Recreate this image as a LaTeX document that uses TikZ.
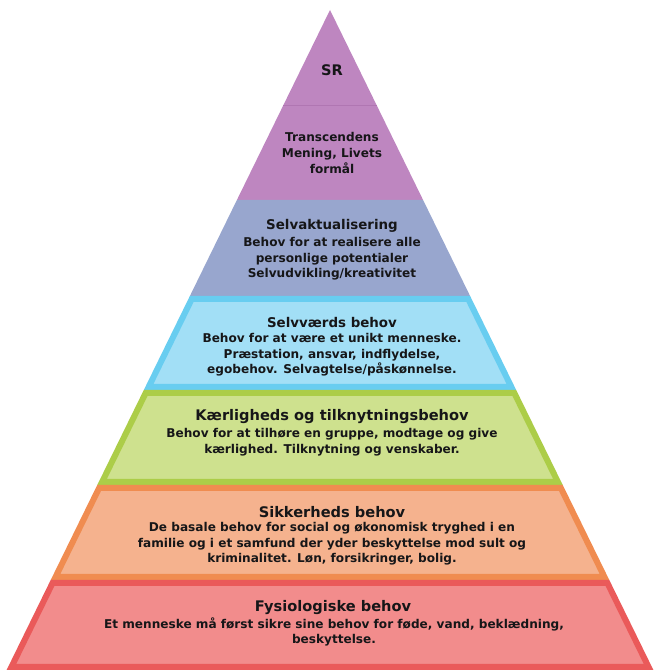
\documentclass[tikz,border=0pt]{standalone}
\usepackage{fontspec}
\setmainfont{DejaVu Sans}
\usepackage{xcolor}
\usepackage{tikz}
\usetikzlibrary{positioning}
\definecolor{ink}{RGB}{22,22,24}
\definecolor{lilac}{RGB}{190,134,192}
\definecolor{lilacline}{RGB}{176,118,178}
\definecolor{dusk}{RGB}{152,166,206}
\definecolor{skyfill}{RGB}{162,223,246}
\definecolor{skyedge}{RGB}{104,205,240}
\definecolor{limefill}{RGB}{206,225,142}
\definecolor{limeedge}{RGB}{172,205,72}
\definecolor{peachfill}{RGB}{245,178,142}
\definecolor{peachedge}{RGB}{240,140,80}
\definecolor{rosefill}{RGB}{242,140,140}
\definecolor{roseedge}{RGB}{234,90,90}

\begin{document}
\begin{tikzpicture}[
  x=1pt, y=1pt,
  tier/.style={line width=6pt, line join=miter},
  head/.style={font=\bfseries\fontsize{14.6}{17}\selectfont, text=ink,
               align=center, inner sep=0pt},
  subhead/.style={head, font=\bfseries\fontsize{13.4}{16}\selectfont},
  body/.style={font=\bfseries\fontsize{12.1}{15.6}\selectfont, text=ink,
               align=center, inner sep=0pt}]
  \useasboundingbox (0,0) rectangle (654,670);
  % top of the pyramid, no outline
  \fill[lilac] (330,660) -- (376.55,565) -- (423.1,470) -- (236.9,470) -- (283.45,565) -- cycle;
  \draw[lilacline, line width=0.7pt] (283.45,565) -- (376.55,565);
  \fill[dusk] (236.9,470) -- (423.1,470) -- (470.1,374) -- (189.9,374) -- cycle;
  % outlined tiers
  \draw[tier, draw=skyedge, fill=skyfill] (191.73,371) -- (468.27,371) -- (511.39,283) -- (148.61,283) -- cycle;
  \draw[tier, draw=limeedge, fill=limefill] (145.67,277) -- (514.33,277) -- (557.94,188) -- (102.06,188) -- cycle;
  \draw[tier, draw=peachedge, fill=peachfill] (99.12,182) -- (560.88,182) -- (604.49,93) -- (55.51,93) -- cycle;
  \draw[tier, draw=roseedge, fill=rosefill] (52.57,87) -- (607.43,87) -- (648.59,3) -- (11.41,3) -- cycle;
  % texts
  \node[head] (sr) at (332,600) {SR};
  \node[body] (trans) at (332,517) {Transcendens\\Mening, Livets\\formål};
  \node[subhead] (selvakt) at (332,444) {Selvaktualisering};
  \node[body] (selvaktB) at (332,411) {Behov for at realisere alle\\personlige potentialer\\Selvudvikling/kreativitet};
  \node[subhead] (vaerd) at (332,347) {Selvværds behov};
  \node[body] (vaerdB) at (332,315) {Behov for at være et unikt menneske.\\Præstation, ansvar, indflydelse,\\egobehov. Selvagtelse/påskønnelse.};
  \node[head] (kaer) at (332,253) {Kærligheds og tilknytningsbehov};
  \node[body] (kaerB) at (332,228) {Behov for at tilhøre en gruppe, modtage og give\\kærlighed. Tilknytning og venskaber.};
  \node[head] (sikker) at (332,158) {Sikkerheds behov};
  \node[body] (sikkerB) at (332,126) {De basale behov for social og økonomisk tryghed i en\\familie og i et samfund der yder beskyttelse mod sult og\\kriminalitet. Løn, forsikringer, bolig.};
  \node[head] (fysio) at (333,62) {Fysiologiske behov};
  \node[body] (fysioB) at (334,38) {Et menneske må først sikre sine behov for føde, vand, beklædning,\\beskyttelse.};
\end{tikzpicture}
\end{document}
